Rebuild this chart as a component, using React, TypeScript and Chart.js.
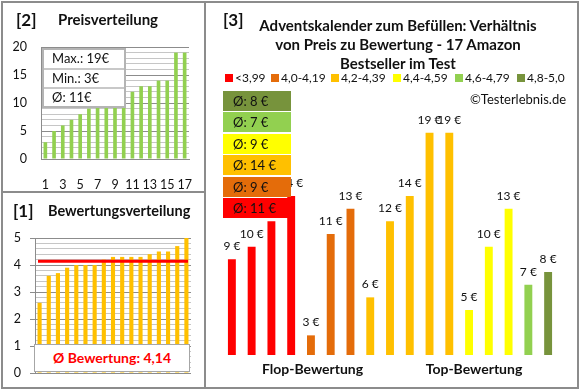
import React, { useEffect, useRef } from 'react';
import { Chart, registerables } from 'chart.js';

Chart.register(...registerables);

// ---------- data ----------
const PRICE_CATEGORIES = ['1', '2', '3', '4', '5', '6', '7', '8', '9', '10', '11', '12', '13', '14', '15', '16', '17'];
const PRICES_SORTED = [3, 5, 6, 7, 8, 9, 10, 10, 11, 12, 12, 13, 13, 14, 14, 19, 19];
const RATINGS_SORTED = [2.6, 3.6, 3.7, 3.9, 4.0, 4.0, 4.0, 4.2, 4.3, 4.3, 4.3, 4.3, 4.4, 4.5, 4.5, 4.7, 5.0];
const AVG_RATING = 4.14;
const MAIN_CATEGORIES = ['1', '2', '3', '4', '5', '6', '7', '8', '9', '10', '11', '12', '13', '14', '15', '16', '17'];
const MAIN_PRICES = [9, 10, 12, 14, 3, 11, 13, 6, 12, 14, 19, 19, 5, 10, 13, 7, 8];
const MAIN_CLASSES = [0, 0, 0, 0, 1, 1, 1, 2, 2, 2, 2, 2, 3, 3, 3, 4, 5];
const CLASS_LABELS = ['<3,99', '4,0-4,19', '4,2-4,39', '4,4-4,59', '4,6-4,79', '4,8-5,0'];
const CLASS_COLORS = ['#FF0000', '#E46C0A', '#FFC000', '#FFFF00', '#92D050', '#77933C'];
const CLASS_AVG = [11, 9, 14, 9, 7, 8];
const GROUP_LABELS = ['Flop-Bewertung', 'Top-Bewertung'];
const TITLE_LINES = ['Adventskalender zum Befüllen: Verhältnis', 'von Preis zu Bewertung - 17 Amazon', 'Bestseller im Test'];

// layout (not data)
const LEGEND_LEFT = [225, 271, 331, 393, 455, 517];

const FONT = "Lato, 'Noto Sans', sans-serif";
const GRID_MAJOR = '#8c8c8c';
const GRID_MINOR = '#c6c6c6';
const isInt = (v: number) => Math.abs(v - Math.round(v)) < 1e-6;

export default function App() {
  const priceRef = useRef<HTMLCanvasElement>(null);
  const ratingRef = useRef<HTMLCanvasElement>(null);
  const mainRef = useRef<HTMLCanvasElement>(null);

  useEffect(() => {
    Chart.defaults.font.family = FONT;
    const charts: Chart[] = [];

    charts.push(new Chart(priceRef.current!, {
      type: 'bar',
      data: {
        labels: PRICE_CATEGORIES,
        datasets: [{ data: PRICES_SORTED, backgroundColor: '#92D050', barPercentage: 0.42, categoryPercentage: 1 }],
      },
      options: {
        responsive: false, animation: false, events: [],
        layout: { padding: { left: 0, top: 47, right: 391, bottom: 191 } },
        plugins: { legend: { display: false }, tooltip: { enabled: false } },
        scales: {
          x: {
            grid: { display: false },
            border: { display: true, color: GRID_MAJOR },
            ticks: {
              autoSkip: false, maxRotation: 0, padding: 10, color: '#111', font: { size: 12.5 },
              callback: (_v: any, i: number) => (i % 2 === 0 ? PRICE_CATEGORIES[i] : ''),
            },
            afterFit: (s: any) => { s.height = 40; },
          },
          y: {
            min: 0, max: 20,
            ticks: {
              autoSkip: false, stepSize: 1, maxTicksLimit: 100, padding: 14, color: '#111', font: { size: 12.5 },
              callback: (v: any) => (Number(v) % 5 === 0 ? String(v) : ''),
            },
            grid: { drawTicks: false, color: (c: any) => (c.tick && c.tick.value % 5 === 0 ? GRID_MAJOR : GRID_MINOR) },
            border: { color: GRID_MAJOR },
            afterFit: (s: any) => { s.width = 41; },
          },
        },
      } as any,
    }));

    charts.push(new Chart(ratingRef.current!, {
      type: 'bar',
      data: {
        labels: PRICE_CATEGORIES,
        datasets: [{ data: RATINGS_SORTED, backgroundColor: '#FFC000', barPercentage: 0.45, categoryPercentage: 1 }],
      },
      options: {
        responsive: false, animation: false, events: [],
        layout: { padding: { left: 0, top: 238, right: 389, bottom: 17 } },
        plugins: { legend: { display: false }, tooltip: { enabled: false } },
        scales: {
          x: { display: false },
          y: {
            min: 0, max: 5,
            ticks: {
              autoSkip: false, stepSize: 0.2, maxTicksLimit: 100, padding: 9, color: '#111', font: { size: 12.5 },
              callback: (v: any) => (isInt(Number(v)) ? String(Math.round(Number(v))) : ''),
            },
            grid: {
              tickLength: 5,
              color: (c: any) => (c.tick && isInt(c.tick.value) ? GRID_MAJOR : GRID_MINOR),
              tickColor: (c: any) => (c.tick && isInt(c.tick.value) ? GRID_MAJOR : 'rgba(0,0,0,0)'),
            },
            border: { color: GRID_MAJOR },
            afterFit: (s: any) => { s.width = 35; },
          },
        },
      } as any,
      plugins: [{
        id: 'avgLine',
        afterDatasetsDraw(chart: any) {
          const { ctx, chartArea, scales } = chart;
          const py = scales.y.getPixelForValue(AVG_RATING);
          ctx.save();
          ctx.strokeStyle = '#FF0000';
          ctx.lineWidth = 3;
          ctx.beginPath();
          ctx.moveTo(chartArea.left + 3, py);
          ctx.lineTo(chartArea.right - 3, py);
          ctx.stroke();
          ctx.restore();
        },
      }],
    }));

    charts.push(new Chart(mainRef.current!, {
      type: 'bar',
      data: {
        labels: MAIN_CATEGORIES,
        datasets: [{
          data: MAIN_PRICES,
          backgroundColor: MAIN_CLASSES.map((c) => CLASS_COLORS[c]),
          barPercentage: 0.4, categoryPercentage: 1,
        }],
      },
      options: {
        responsive: false, animation: false, events: [],
        layout: { padding: { left: 222, top: 120, right: 22, bottom: 35 } },
        plugins: { legend: { display: false }, tooltip: { enabled: false } },
        scales: {
          x: { display: false },
          y: { display: false, min: 1.45, max: 20 },
        },
      } as any,
      plugins: [{
        id: 'barLabels',
        afterDatasetsDraw(chart: any) {
          const { ctx } = chart;
          const meta = chart.getDatasetMeta(0);
          ctx.save();
          ctx.font = `12px ${FONT}`;
          ctx.fillStyle = '#111';
          ctx.textAlign = 'center';
          ctx.textBaseline = 'alphabetic';
          meta.data.forEach((bar: any, i: number) => {
            ctx.fillText(`${MAIN_PRICES[i]} €`, bar.x, bar.y - 9);
          });
          ctx.restore();
        },
      }],
    }));

    return () => charts.forEach((c) => c.destroy());
  }, []);

  const maxP = Math.max(...PRICES_SORTED);
  const minP = Math.min(...PRICES_SORTED);
  const avgP = Math.round(PRICES_SORTED.reduce((a, b) => a + b, 0) / PRICES_SORTED.length);
  const stats = [`Max.: ${maxP}€`, `Min.: ${minP}€`, `Ø: ${avgP}€`];

  const abs = (s: React.CSSProperties): React.CSSProperties => ({ position: 'absolute', ...s });
  const canvasStyle: React.CSSProperties = { position: 'absolute', left: 0, top: 0 };
  const line = '#8c8c8c';

  return (
    <div style={{ position: 'relative', width: 580, height: 390, overflow: 'hidden', background: '#fff', fontFamily: FONT, color: '#111' }}>
      <style>{'body{margin:0}'}</style>
      <canvas ref={priceRef} width={580} height={390} style={canvasStyle} />
      <canvas ref={ratingRef} width={580} height={390} style={canvasStyle} />
      <canvas ref={mainRef} width={580} height={390} style={canvasStyle} />

      {/* frame */}
      <div style={abs({ left: 1, top: 1, width: 578, height: 388, boxSizing: 'border-box', border: `2px solid ${line}` })} />
      <div style={abs({ left: 204, top: 1, width: 2, height: 388, background: line })} />
      <div style={abs({ left: 1, top: 191, width: 204, height: 2, background: line })} />

      {/* panel 2 */}
      <div style={abs({ left: 16, top: 9, fontSize: 17, fontWeight: 700, lineHeight: '22px' })}>[2]</div>
      <div style={abs({ left: 58, top: 10, fontSize: 15, fontWeight: 700, lineHeight: '19px' })}>Preisverteilung</div>
      <div style={abs({ left: 42, top: 48, width: 84, background: '#fff', boxSizing: 'border-box', border: '2px solid #b4b4b4' })}>
        {stats.map((s, i) => (
          <div key={i} style={{ height: i === 2 ? 17 : 17.5, lineHeight: '17px', paddingLeft: 8, fontSize: 13, borderTop: i > 0 ? '2px solid #c8c8c8' : 'none' }}>{s}</div>
        ))}
      </div>

      {/* panel 1 */}
      <div style={abs({ left: 13, top: 200, fontSize: 17, fontWeight: 700, lineHeight: '22px' })}>[1]</div>
      <div style={abs({ left: 48, top: 201, fontSize: 14.5, fontWeight: 700, lineHeight: '19px' })}>Bewertungsverteilung</div>
      <div style={abs({ left: 34, top: 344, width: 156, height: 28, boxSizing: 'border-box', border: '1px solid #a6a6a6', background: '#fff', color: '#FF0000', fontWeight: 700, fontSize: 14, lineHeight: '26px', textAlign: 'center' })}>
        {`Ø Bewertung: ${AVG_RATING.toFixed(2).replace('.', ',')}`}
      </div>

      {/* panel 3 */}
      <div style={abs({ left: 223, top: 9, fontSize: 17, fontWeight: 700, lineHeight: '22px' })}>[3]</div>
      <div style={abs({ left: 200, top: 16, width: 396, textAlign: 'center', fontSize: 15, fontWeight: 700, lineHeight: '19px' })}>
        {TITLE_LINES.map((t, i) => <div key={i}>{t}</div>)}
      </div>
      {CLASS_LABELS.map((l, i) => (
        <div key={i} style={abs({ left: LEGEND_LEFT[i], top: 70, display: 'flex', alignItems: 'center', fontSize: 12, lineHeight: '15px', whiteSpace: 'nowrap' })}>
          <span style={{ display: 'inline-block', width: 8, height: 8, background: CLASS_COLORS[i], marginRight: 2 }} />
          <span>{l}</span>
        </div>
      ))}
      <div style={abs({ left: 470, top: 91, fontSize: 13, lineHeight: '16px' })}>©Testerlebnis.de</div>
      {CLASS_AVG.map((_v, i) => {
        const idx = CLASS_AVG.length - 1 - i;
        return (
          <div key={i} style={abs({ left: 223, top: 90.7 + i * 21.5, width: 68, height: 20, background: CLASS_COLORS[idx], fontSize: 13, lineHeight: '20px', paddingLeft: 10, boxSizing: 'border-box' })}>
            {`Ø: ${CLASS_AVG[idx]} €`}
          </div>
        );
      })}
      {GROUP_LABELS.map((g, i) => (
        <div key={i} style={abs({ left: (i === 0 ? 312.5 : 474) - 80, top: 360, width: 160, textAlign: 'center', fontSize: 14, fontWeight: 700, lineHeight: '18px' })}>{g}</div>
      ))}
    </div>
  );
}
